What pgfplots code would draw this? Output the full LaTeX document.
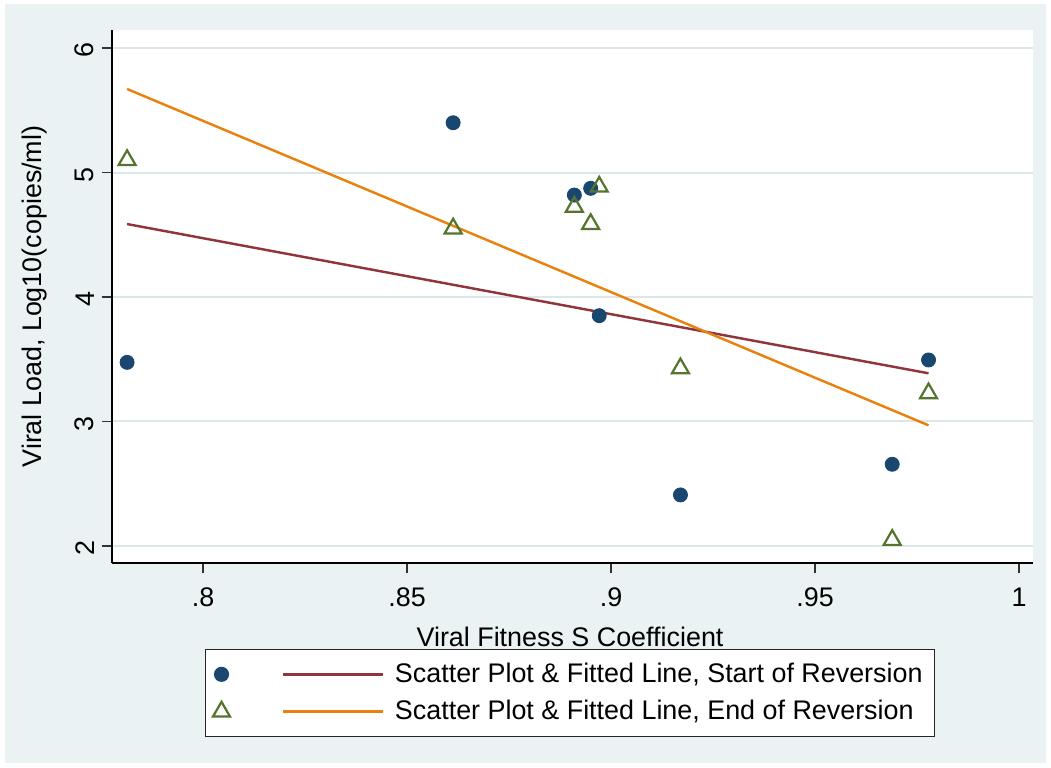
\documentclass[border=0pt]{standalone}
\usepackage{pgfplots}
\pgfplotsset{compat=1.18}
\usepackage{fontspec}
\setmainfont{Liberation Sans}
\definecolor{stnavy}{RGB}{26,71,111}
\definecolor{stmaroon}{RGB}{144,53,59}
\definecolor{stgreen}{RGB}{85,117,47}
\definecolor{storange}{RGB}{232,130,12}
\definecolor{stbg}{RGB}{234,242,243}
\definecolor{stgrid}{RGB}{220,231,233}
\pgfplotsset{
  legmark/.style={legend image code/.code={\draw[##1] plot coordinates {(0pt,0pt)};}},
  legline/.style={legend image code/.code={\path[draw=none] (0pt,0pt) -- (68.25pt,0pt); \draw[##1] (19.75pt,0pt) -- (64.75pt,0pt);}},
}
\begin{document}
\begin{tikzpicture}
\useasboundingbox (-50.4pt,-91.8pt) rectangle (422.55pt,253.35pt);
\fill[white] (-50.4pt,-91.8pt) rectangle (422.55pt,253.35pt);
\fill[stbg] (-48.15pt,-90pt) rectangle (420.3pt,251.55pt);
\fill[white] (0pt,0pt) rectangle (414.45pt,239.85pt);
\begin{axis}[
  at={(0pt,0pt)}, anchor=south west,
  scale only axis, width=414.45pt, height=239.85pt,
  xmin=0.7777, xmax=1.0034, ymin=1.863, ymax=6.145,
  axis x line*=bottom, axis y line*=left,
  axis line style={-, black, line width=0.7pt},
  every outer x axis line/.append style={-},
  every outer y axis line/.append style={-},
  xtick={0.8,0.85,0.9,0.95,1}, xticklabels={.8,.85,.9,.95,1},
  ytick={2,3,4,5,6}, yticklabels={2,3,4,5,6},
  tick align=outside, major tick length=4.5pt,
  tick style={black!80, line width=0.6pt},
  ymajorgrids, grid style={stgrid, line width=0.9pt},
  font=\fontsize{12.1pt}{14pt}\selectfont,
  yticklabel style={rotate=90, anchor=south, xshift=-1pt},
  xticklabel style={yshift=-3pt},
  xlabel={Viral Fitness S Coefficient},
  ylabel={Viral Load, Log10(copies/ml)},
  every axis x label/.append style={at={(axis description cs:0.4973,-0.1388)}, anchor=center},
  every axis y label/.append style={at={(axis description cs:-0.0837,0.5)}, anchor=center},
  legend columns=2,
  legend style={at={(0.4973,-0.1614)}, anchor=north, draw=black!85, line width=0.5pt,
    fill=white, inner xsep=3.5pt, inner ysep=4pt, row sep=2.5pt,
    font=\fontsize{12.1pt}{14pt}\selectfont, cells={anchor=west}},
]
\addplot[only marks, mark=*, mark size=3.15pt, color=stnavy, legmark]
  table {
x y
0.7814 3.475
0.8613 5.400
0.8910 4.819
0.8950 4.873
0.8971 3.850
0.9170 2.410
0.9689 2.656
0.9778 3.494
};
\addlegendentry{}
\addplot[stmaroon, line width=1.1pt, legline]
  coordinates {(0.7814,4.586) (0.9778,3.387)};
\addlegendentry{Scatter Plot \& Fitted Line, Start of Reversion\hspace{7.5pt}}
\addplot[only marks, mark=triangle, mark size=4.4pt, color=stgreen,
  mark options={line width=1pt}, legmark]
  table {
x y
0.7814 5.100
0.8613 4.550
0.8910 4.725
0.8950 4.586
0.8971 4.886
0.9170 3.427
0.9689 2.048
0.9778 3.226
};
\addlegendentry{}
\addplot[storange, line width=1.1pt, legline]
  coordinates {(0.7814,5.671) (0.9778,2.969)};
\addlegendentry{Scatter Plot \& Fitted Line, End of Reversion}
\end{axis}
\end{tikzpicture}
\end{document}
